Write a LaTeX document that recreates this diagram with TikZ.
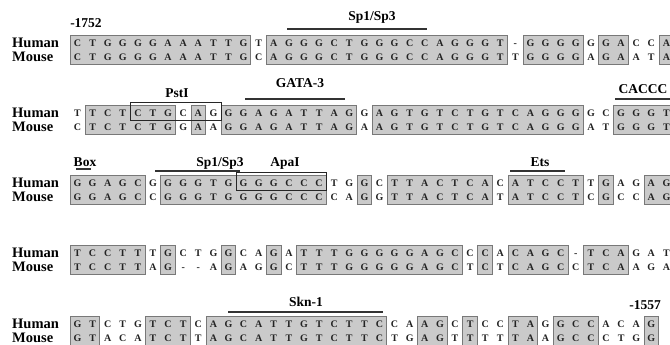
\documentclass[tikz,border=0pt]{standalone}
\usepackage{fontspec}
\setmainfont{Liberation Serif}
\definecolor{boxfill}{RGB}{202,202,202}
\definecolor{boxline}{RGB}{120,120,120}
\definecolor{ink}{RGB}{35,35,35}
\def\xz{77.5}
\def\pp{15.1}
\newcommand\seqrow[3]{%
  \foreach \c [count=\i] in {#3} \node[seqletter] (#1-\i) at ({\xz+(\i-1)*\pp},#2) {\c};}
\newcommand\matchboxes[3]{%
  \foreach \a/\b in {#3} \draw[matchbox] ({\xz+(\a-1)*\pp-7.3},#1) rectangle ({\xz+(\b-1)*\pp+7.3},#2);}
\newcommand\sitebox[4]{%
  \draw[site] ({\xz+(#1-1)*\pp-7.6},#3) rectangle ({\xz+(#2-1)*\pp+7.6},#4);}
\begin{document}
\begin{tikzpicture}[x=1pt,y=-1pt,
  seqletter/.style={font=\bfseries\fontsize{10}{10}\selectfont, text=ink, inner sep=0pt, text height=6.8pt, text depth=0pt, anchor=center},
  species/.style={font=\bfseries\fontsize{14.5}{14.5}\selectfont, text=black, inner sep=0pt, anchor=west},
  lab/.style={font=\bfseries\fontsize{13.5}{13.5}\selectfont, text=black, inner sep=0pt},
  matchbox/.style={fill=boxfill, draw=boxline, line width=0.9pt},
  site/.style={draw=black!85, line width=0.9pt},
  sitebar/.style={draw=black!80, line width=1.2pt}]
\useasboundingbox (0,0) rectangle (670,345);
\clip (0,0) rectangle (670,345);
\fill[white] (0,0) rectangle (670,345);

% ---------- Row 1 ----------
\matchboxes{35}{64}{1/12,14/29,31/34,36/37,40/40}
\node[species] (hum1) at (12,43) {Human};
\node[species] (mou1) at (12,57) {Mouse};
\seqrow{h1}{43}{C,T,G,G,G,G,A,A,A,T,T,G,T,A,G,G,G,C,T,G,G,G,C,C,A,G,G,G,T,-,G,G,G,G,G,G,A,C,C,A}
\seqrow{m1}{57}{C,T,G,G,G,G,A,A,A,T,T,G,C,A,G,G,G,C,T,G,G,G,C,C,A,G,G,G,T,T,G,G,G,G,A,G,A,A,T,A}
\node[lab] (n1752) at (86,23) {-1752};
\node[lab] (sp1) at (372,17) {Sp1/Sp3};
\draw[sitebar] (287,29) -- (427,29);

% ---------- Row 2 ----------
\matchboxes{105}{134}{2/7,9/9,11/19,21/34,37/40}
\node[species] (hum2) at (12,113) {Human};
\node[species] (mou2) at (12,127) {Mouse};
\seqrow{h2}{113}{T,T,C,T,C,T,G,C,A,G,G,G,A,G,A,T,T,A,G,G,A,G,T,G,T,C,T,G,T,C,A,G,G,G,G,C,G,G,G,T}
\seqrow{m2}{127}{C,T,C,T,C,T,G,G,A,A,G,G,A,G,A,T,T,A,G,A,A,G,T,G,T,C,T,G,T,C,A,G,G,G,A,T,G,G,G,T}
\sitebox{5}{10}{102}{120}
\node[lab] (pst) at (177,93) {PstI};
\node[lab] (gata) at (300,83) {GATA-3};
\draw[sitebar] (245,99) -- (345,99);
\node[lab] (caccc) at (643,89) {CACCC};
\draw[sitebar] (615,99) -- (670,99);

% ---------- Row 3 ----------
\matchboxes{175}{204}{1/5,7/17,20/20,22/28,30/34,36/36,39/40}
\node[species] (hum3) at (12,183) {Human};
\node[species] (mou3) at (12,197) {Mouse};
\seqrow{h3}{183}{G,G,A,G,C,G,G,G,G,T,G,G,G,G,C,C,C,T,G,G,C,T,T,A,C,T,C,A,C,A,T,C,C,T,T,G,A,G,A,G}
\seqrow{m3}{197}{G,G,A,G,C,C,G,G,G,T,G,G,G,G,C,C,C,C,A,G,G,T,T,A,C,T,C,A,T,A,T,C,C,T,C,G,C,C,A,G}
\sitebox{12}{17}{172}{190}
\node[lab] (box) at (85,162) {Box};
\draw[sitebar] (76,169) -- (91,169);
\node[lab] (sp2) at (220,163) {Sp1/Sp3};
\draw[sitebar] (155,171) -- (240,171);
\node[lab] (apa) at (285,163) {ApaI};
\node[lab] (ets) at (540,162) {Ets};
\draw[sitebar] (510,171) -- (565,171);

% ---------- Row 4 ----------
\matchboxes{245}{274}{1/5,7/7,11/11,14/14,16/26,28/28,30/33,35/37}
\node[species] (hum4) at (12,253) {Human};
\node[species] (mou4) at (12,267) {Mouse};
\seqrow{h4}{253}{T,C,C,T,T,T,G,C,T,G,G,C,A,G,A,T,T,T,G,G,G,G,G,A,G,C,C,C,A,C,A,G,C,-,T,C,A,G,A,T}
\seqrow{m4}{267}{T,C,C,T,T,A,G,-,-,A,G,A,G,G,C,T,T,T,G,G,G,G,G,A,G,C,T,C,T,C,A,G,C,C,T,C,A,A,G,A}

% ---------- Row 5 ----------
\matchboxes{316}{345}{1/2,6/8,10/21,24/25,27/27,30/31,33/35,39/39}
\node[species] (hum5) at (12,324) {Human};
\node[species] (mou5) at (12,338) {Mouse};
\seqrow{h5}{324}{G,T,C,T,G,T,C,T,C,A,G,C,A,T,T,G,T,C,T,T,C,C,A,A,G,C,T,C,C,T,A,G,G,C,C,A,C,A,G}
\seqrow{m5}{338}{G,T,A,C,A,T,C,T,T,A,G,C,A,T,T,G,T,C,T,T,C,T,G,A,G,T,T,T,T,T,A,A,G,C,C,C,T,G,G}
\node[lab] (skn) at (306,302) {Skn-1};
\draw[sitebar] (228,312) -- (383,312);
\node[lab] (n1557) at (645,305) {-1557};
\end{tikzpicture}
\end{document}
